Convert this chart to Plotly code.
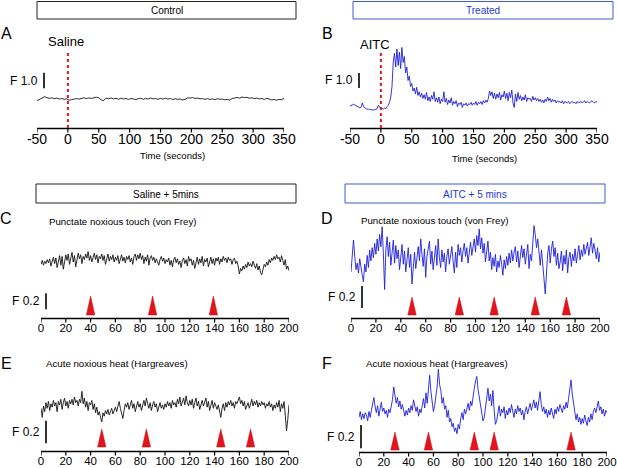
import plotly.graph_objects as go

W, H = 617, 468
FONT = "Arial, 'Liberation Sans', Helvetica, sans-serif"

# ---------------- data ----------------
# Panel A: control, saline added at t = 0 (F, baseline-subtracted)
a_time = list(range(-50, 351, 4))
a_saline = [
    -0.10, -0.05, 0.05, 0.15, 0.10, 0.04, 0.08, 0.02, 0.06, 0.00,
    0.03, -0.02, 0.01, -0.08, -0.04, 0.00, 0.03, -0.01, 0.05, 0.08,
    0.03, 0.07, 0.04, 0.09, 0.12, 0.08, -0.06, -0.10, 0.06, 0.02,
    0.07, 0.01, 0.05, -0.02, 0.06, 0.00, 0.04, -0.03, 0.03, 0.01,
    -0.04, 0.02, 0.05, -0.02, 0.04, 0.00, 0.06, 0.01, 0.03, -0.02,
    0.04, 0.00, 0.05, -0.01, 0.03, -0.03, 0.02, -0.02, 0.00, -0.06,
    -0.02, 0.08, 0.06, 0.09, 0.04, 0.06, 0.01, 0.03, -0.02, 0.02,
    -0.03, 0.01, -0.04, 0.02, -0.02, 0.00, -0.05, -0.02, -0.07, 0.03,
    0.07, 0.10, 0.06, 0.13, 0.09, 0.11, 0.05, 0.08, 0.02, 0.06,
    0.00, 0.04, -0.03, 0.05, 0.00, -0.06, -0.03, -0.08, -0.02, -0.04,
    0.04,
]

# Panel B: treated, AITC added at t = 0
b_time = list(range(-50, 351, 2))
b_aitc = [
    0.00, 0.05, 0.08, 0.12, 0.06, 0.02, -0.05, -0.10, -0.12, -0.08,
    0.20, -0.05, -0.15, -0.18, -0.22, -0.20, -0.24, -0.26, -0.23, -0.27,
    -0.25, -0.22, -0.18, 0.05, -0.10, -0.20, -0.15, -0.22, -0.12, -0.18,
    -0.05, 0.05, 0.25, 0.60, 1.30, 2.90, 3.50, 2.60, 3.80, 2.70,
    3.60, 2.50, 3.90, 2.90, 3.30, 2.20, 2.60, 1.70, 2.00, 1.30,
    1.50, 1.00, 1.20, 0.80, 1.25, 0.70, 0.95, 0.60, 0.85, 0.50,
    0.75, 0.45, 0.90, 0.35, 0.60, 0.30, 0.70, 0.45, 0.95, 0.30,
    0.55, 0.25, 0.60, 0.15, 0.45, 0.30, 0.95, 0.25, 0.50, 0.10,
    0.40, 0.20, 0.55, 0.05, 0.30, 0.15, 0.35, -0.05, 0.20, 0.10,
    0.25, -0.10, 0.15, 0.05, 0.20, 0.00, 0.15, 0.10, 0.25, 0.05,
    0.20, 0.10, 0.30, 0.05, 0.25, 0.15, 0.30, 0.10, 0.35, 0.20,
    0.40, 0.25, 0.50, 1.00, 0.70, 0.95, 0.50, 0.85, 0.45, 0.80,
    0.55, 0.90, 0.40, 0.75, 0.60, 1.00, 0.50, 0.85, 0.35, 0.90,
    0.55, 1.05, 0.20, -0.10, 0.80, 0.30, 0.90, 0.45, 0.70, 0.35,
    0.60, 0.40, 0.75, 0.30, 0.55, 0.45, 0.50, 0.30, 0.65, 0.40,
    0.55, 0.35, 0.50, 0.30, 0.45, 0.25, 0.40, 0.20, 0.45, 0.30,
    0.60, 0.35, 0.50, 0.25, 0.45, 0.30, 0.40, 0.20, 0.35, 0.25,
    0.30, 0.20, 0.35, 0.15, 0.30, 0.25, 0.20, 0.30, 0.15, 0.25,
    0.30, 0.20, 0.25, 0.15, 0.30, 0.20, 0.25, 0.30, 0.20, 0.25,
    0.35, 0.20, 0.30, 0.25, 0.20, 0.30, 0.35, 0.25, 0.20, 0.30,
    0.25,
]

# Panels C-F: 200 s recordings
t200 = list(range(0, 201))
c_vonfrey_saline = [
    -0.03, 0.02, -0.04, 0.01, -0.02, 0.03, -0.01, 0.04, -0.05, 0.02,
    0.06, -0.02, 0.05, -0.07, 0.03, 0.08, -0.04, 0.07, -0.09, 0.01,
    0.09, 0.02, 0.10, -0.03, 0.06, 0.12, 0.00, 0.08, -0.06, 0.05,
    0.11, 0.04, 0.09, -0.02, 0.07, 0.03, 0.10, 0.05, 0.13, 0.02,
    0.08, 0.00, 0.06, 0.11, 0.03, 0.09, -0.01, 0.07, 0.04, 0.10,
    0.02, 0.08, -0.03, 0.06, 0.10, 0.01, 0.07, 0.03, 0.09, 0.00,
    0.06, 0.02, 0.08, -0.02, 0.05, 0.09, 0.01, 0.06, -0.01, 0.07,
    0.03, 0.08, 0.00, 0.05, -0.03, 0.07, 0.10, 0.02, 0.09, 0.04,
    0.11, 0.03, 0.08, -0.02, 0.06, 0.01, 0.09, -0.04, 0.05, 0.08,
    0.02, 0.06, -0.01, 0.04, 0.00, -0.04, 0.03, 0.07, 0.01, 0.05,
    -0.02, 0.03, 0.00, 0.05, -0.04, 0.02, -0.06, 0.03, 0.06, -0.01,
    0.04, -0.03, 0.01, -0.07, 0.02, 0.05, -0.02, 0.03, -0.05, 0.07,
    0.01, 0.04, -0.04, 0.02, -0.08, 0.01, 0.06, -0.03, 0.04, -0.01,
    0.07, -0.05, 0.03, 0.00, 0.05, -0.06, 0.02, 0.06, -0.02, 0.04,
    -0.04, 0.05, 0.01, 0.06, -0.03, 0.04, 0.00, 0.07, 0.02, 0.05,
    -0.01, 0.06, 0.02, 0.04, -0.03, 0.03, 0.05, -0.02, 0.01, -0.05,
    -0.15, -0.08, -0.11, -0.05, -0.09, -0.03, -0.07, 0.00, -0.05, -0.02,
    -0.06, 0.01, -0.04, -0.08, -0.02, -0.10, -0.05, -0.13, -0.16, -0.07,
    -0.03, -0.06, 0.00, -0.04, 0.03, -0.01, 0.05, 0.02, 0.07, 0.03,
    0.09, 0.04, 0.06, 0.00, 0.08, 0.02, -0.04, 0.03, -0.09, -0.05,
    -0.11,
]
d_vonfrey_aitc = [
    -0.12, 0.05, 0.17, 0.02, -0.10, -0.04, -0.13, 0.00, -0.09, -0.15,
    -0.21, -0.05, -0.12, 0.03, -0.08, 0.08, -0.02, 0.10, 0.01, 0.14,
    0.04, 0.18, 0.07, 0.22, 0.11, 0.29, 0.05, -0.28, 0.08, 0.20,
    0.02, 0.15, -0.06, 0.09, 0.17, -0.04, 0.12, 0.00, 0.08, -0.10,
    0.05, 0.13, -0.05, 0.07, -0.12, 0.02, 0.10, -0.08, 0.04, -0.23,
    -0.04, 0.06, -0.09, 0.03, 0.11, -0.02, 0.18, 0.04, -0.07, 0.09,
    -0.17, 0.02, 0.10, 0.16, -0.05, 0.07, -0.10, 0.03, 0.12, -0.06,
    0.18, 0.01, -0.08, 0.08, -0.03, 0.05, -0.12, 0.02, 0.09, -0.05,
    0.04, 0.11, -0.02, -0.13, 0.06, -0.08, 0.13, 0.03, 0.10, -0.03,
    0.07, 0.14, 0.02, 0.10, -0.04, 0.08, 0.15, 0.03, 0.11, 0.18,
    0.06, 0.21, 0.12, 0.27, 0.09, 0.19, 0.05, 0.14, -0.03, 0.08,
    0.16, -0.02, 0.06, -0.10, 0.01, -0.07, 0.04, -0.12, -0.02, -0.08,
    0.03, -0.05, -0.15, -0.01, -0.09, 0.02, -0.06, 0.05, -0.04, 0.08,
    -0.02, 0.06, 0.11, -0.03, 0.07, -0.08, 0.04, 0.12, 0.01, 0.09,
    -0.05, 0.06, 0.13, -0.09, 0.04, -0.02, 0.16, 0.30, 0.22, 0.10,
    0.18, 0.04, -0.06, 0.08, -0.10, -0.18, -0.32, -0.12, 0.05, 0.12,
    -0.04, 0.09, 0.16, 0.02, 0.10, -0.06, 0.05, -0.09, -0.03, 0.07,
    -0.11, 0.03, -0.05, 0.08, -0.13, 0.01, 0.06, -0.07, 0.04, -0.02,
    0.09, -0.04, 0.05, 0.12, -0.01, 0.08, 0.02, 0.13, 0.04, 0.10,
    0.15, 0.03, 0.11, 0.19, 0.05, 0.14, 0.08, 0.00, 0.10, -0.03,
    0.06,
]
e_heat_saline = [
    0.00, -0.08, 0.02, -0.03, 0.05, 0.00, 0.06, -0.02, 0.04, 0.01,
    0.07, 0.02, 0.05, -0.03, 0.06, 0.03, 0.08, -0.01, 0.05, 0.09,
    0.02, 0.06, 0.00, 0.07, 0.04, 0.08, 0.03, 0.10, 0.05, 0.07,
    0.02, 0.08, 0.05, 0.15, 0.04, 0.09, 0.01, 0.06, -0.02, 0.05,
    0.03, 0.07, -0.01, 0.04, -0.04, 0.01, -0.06, -0.03, -0.08, -0.12,
    -0.04, -0.07, -0.02, -0.05, -0.01, -0.06, -0.03, 0.00, -0.05, -0.02,
    0.01, -0.03, 0.03, 0.06, 0.00, -0.05, -0.09, -0.02, 0.04, 0.01,
    0.05, -0.01, 0.03, 0.07, 0.00, 0.04, -0.03, 0.02, 0.06, 0.01,
    0.04, -0.02, 0.03, 0.07, 0.02, 0.09, 0.04, 0.00, 0.05, -0.02,
    0.03, 0.06, 0.01, 0.04, -0.03, 0.02, 0.05, 0.00, 0.03, -0.01,
    0.04, 0.01, 0.06, 0.02, 0.05, 0.00, 0.07, 0.03, 0.05, 0.01,
    0.08, 0.04, 0.10, 0.02, 0.06, 0.09, 0.03, 0.11, 0.05, 0.02,
    0.07, 0.03, 0.08, 0.00, 0.05, 0.09, 0.02, 0.06, -0.01, 0.04,
    0.07, 0.02, 0.05, 0.09, 0.01, 0.06, -0.02, 0.04, 0.07, 0.00,
    0.05, 0.02, -0.01, 0.03, -0.04, -0.08, 0.00, 0.04, -0.02, 0.05,
    0.01, 0.06, 0.03, 0.07, 0.02, 0.05, 0.00, 0.06, 0.04, 0.08,
    0.10, 0.04, 0.07, 0.02, 0.06, -0.01, 0.03, 0.05, 0.00, 0.04,
    0.08, 0.02, 0.06, 0.03, 0.07, 0.01, 0.05, 0.02, 0.06, 0.03,
    0.05, 0.00, 0.04, 0.02, 0.06, 0.01, 0.04, -0.02, 0.03, 0.00,
    0.05, 0.01, 0.07, -0.03, 0.04, 0.00, 0.06, -0.06, -0.20, -0.10,
    0.03,
]
f_heat_aitc = [
    -0.02, 0.03, -0.04, 0.01, -0.03, 0.02, 0.00, -0.05, 0.03, -0.02,
    0.04, 0.10, 0.15, 0.07, 0.02, 0.08, -0.01, 0.05, 0.11, 0.03,
    0.06, 0.01, 0.04, -0.02, 0.05, 0.02, 0.08, 0.13, 0.24, 0.18,
    0.10, 0.15, 0.07, 0.12, 0.05, 0.09, 0.03, -0.01, 0.04, 0.00,
    0.06, 0.02, 0.08, 0.04, 0.13, 0.09, 0.03, 0.07, -0.01, 0.05,
    0.02, 0.08, 0.14, 0.06, 0.19, 0.10, 0.27, 0.34, 0.20, 0.13,
    0.03, 0.08, 0.17, 0.24, 0.39, 0.26, 0.21, 0.10, 0.15, 0.05,
    0.08, -0.02, 0.04, -0.06, -0.03, -0.10, -0.07, -0.14, -0.11, -0.16,
    -0.08, -0.12, -0.03, 0.02, -0.04, 0.05, 0.01, 0.06, 0.10, 0.04,
    0.12, 0.08, 0.18, 0.23, 0.29, 0.33, 0.22, 0.16, 0.07, 0.01,
    -0.05, -0.02, 0.06, 0.14, 0.23, 0.12, 0.18, 0.08, 0.21, 0.04,
    -0.08, -0.05, 0.03, 0.08, -0.01, 0.05, 0.02, 0.07, -0.03, 0.04,
    0.00, 0.06, 0.02, 0.09, 0.03, -0.02, 0.05, 0.01, 0.08, 0.03,
    0.06, 0.00, 0.04, -0.04, 0.03, 0.07, 0.01, 0.05, 0.10, 0.04,
    0.08, 0.13, 0.06, 0.11, 0.04, 0.15, 0.20, 0.09, 0.03, 0.07,
    0.01, 0.05, -0.02, 0.04, 0.00, 0.06, 0.02, -0.03, 0.05, 0.01,
    0.07, 0.03, 0.09, 0.04, 0.02, 0.08, 0.05, 0.11, 0.06, 0.14,
    0.22, 0.30, 0.18, 0.08, 0.03, -0.04, 0.01, -0.06, -0.02, -0.08,
    -0.03, -0.07, 0.00, -0.05, -0.09, -0.02, -0.06, 0.01, -0.04, 0.03,
    0.06, 0.02, 0.09, 0.12, 0.04, 0.07, 0.01, 0.05, -0.01, 0.04,
    0.02,
]

# stimulus times (red arrowheads)
c_stim = [40, 90, 139]
d_stim = [49, 87, 115, 148, 173]
e_stim = [49, 85, 145, 169]
f_stim = [29, 56, 93, 109, 171]

# tick labels
ab_ticks = [-50, 0, 50, 100, 150, 200, 250, 300, 350]
cf_ticks = [0, 20, 40, 60, 80, 100, 120, 140, 160, 180, 200]

# scale bars (F units)
ab_scale = 1.0
cf_scale = 0.2

# ---------------- styling / layout helpers ----------------
def fx(p):
    return p / W


def fy(p):
    return 1 - p / H


BLACK_TRACE = "#141414"
BLUE_TRACE = "#1f1fd8"
RED = "#e3141b"
BLUE_BOX = "#3d5ad8"
BLUE_TXT = "#2436d0"

# geometry in pixels: x-left, x-right, axis line y, top y, y-min (F), px per F
panels = [
    dict(x=a_time, y=a_saline, color=BLACK_TRACE, xl=37, xr=284, yb=128, yt=40,
         ymin=-1.87, ppu=15.5, xrange=[-50, 350], ticks=ab_ticks, tfs=14, so=1),
    dict(x=b_time, y=b_aitc, color=BLUE_TRACE, xl=350, xr=597, yb=128, yt=40,
         ymin=-1.467, ppu=15.0, xrange=[-50, 350], ticks=ab_ticks, tfs=14, so=1),
    dict(x=t200, y=c_vonfrey_saline, color=BLACK_TRACE, xl=41, xr=289, yb=318, yt=235,
         ymin=-0.70, ppu=80.0, xrange=[0, 200], ticks=cf_ticks, tfs=11.5, so=1),
    dict(x=t200, y=d_vonfrey_aitc, color=BLUE_TRACE, xl=351, xr=600, yb=318, yt=222,
         ymin=-0.539, ppu=110.0, xrange=[0, 200], ticks=cf_ticks, tfs=11.5, so=1),
    dict(x=t200, y=e_heat_saline, color=BLACK_TRACE, xl=41, xr=289, yb=451, yt=380,
         ymin=-0.378, ppu=113.0, xrange=[0, 200], ticks=cf_ticks, tfs=11.5, so=1),
    dict(x=t200, y=f_heat_aitc, color=BLUE_TRACE, xl=359, xr=607, yb=452, yt=360,
         ymin=-0.316, ppu=117.0, xrange=[0, 200], ticks=cf_ticks, tfs=11.5, so=1),
]

fig = go.Figure()
layout = {}
shapes = []
annotations = []
for i, p in enumerate(panels, start=1):
    sfx = "" if i == 1 else str(i)
    fig.add_trace(go.Scatter(
        x=p["x"], y=p["y"], mode="lines",
        line=dict(color=p["color"], width=0.9),
        xaxis="x" + sfx, yaxis="y" + sfx,
        hoverinfo="skip", showlegend=False,
    ))
    layout["xaxis" + sfx] = dict(
        domain=[fx(p["xl"]), fx(p["xr"])], range=p["xrange"], anchor="y" + sfx,
        showline=False, ticks="",
        tickmode="array", tickvals=p["ticks"], ticktext=[str(t) for t in p["ticks"]],
        tickfont=dict(size=p["tfs"], color="black", family=FONT),
        ticklabelstandoff=p["so"],
        showgrid=False, zeroline=False, fixedrange=True, automargin=False,
    )
    ymax = p["ymin"] + (p["yb"] - p["yt"]) / p["ppu"]
    layout["yaxis" + sfx] = dict(
        domain=[fy(p["yb"]), fy(p["yt"])], range=[p["ymin"], ymax], anchor="x" + sfx,
        showline=False, showticklabels=False, ticks="", showgrid=False,
        zeroline=False, fixedrange=True, automargin=False,
    )
    # axis baseline and tick marks, placed through the x axis scale
    shapes.append(dict(type="line", xref="x" + sfx, yref="paper",
                       x0=p["xrange"][0], x1=p["xrange"][1],
                       y0=fy(p["yb"] + 0.5), y1=fy(p["yb"] + 0.5),
                       line=dict(color="black", width=1.5)))
    for t in p["ticks"]:
        shapes.append(dict(type="line", xref="x" + sfx, yref="paper",
                           x0=t, x1=t, y0=fy(p["yb"]), y1=fy(p["yb"] + 4.5),
                           line=dict(color="black", width=1.2)))


def text(x, y, s, size, color="black", xanchor="center", yanchor="middle"):
    annotations.append(dict(
        x=fx(x), y=fy(y), xref="paper", yref="paper", text=s, showarrow=False,
        xanchor=xanchor, yanchor=yanchor,
        font=dict(size=size, color=color, family=FONT),
    ))


def box(x0, x1, y0, y1, s, color, tcolor):
    shapes.append(dict(type="rect", xref="paper", yref="paper",
                       x0=fx(x0), x1=fx(x1), y0=fy(y1), y1=fy(y0),
                       line=dict(color=color, width=1), fillcolor="rgba(0,0,0,0)"))
    text((x0 + x1) / 2, (y0 + y1) / 2 + 0.5, s, 10, tcolor)


# header boxes
box(37, 296, 1.5, 19, "Control", "#222222", "black")
box(353, 613, 1.5, 19, "Treated", BLUE_BOX, BLUE_TXT)
box(36, 296, 184, 203, "Saline + 5mins", "#222222", "black")
box(345, 605, 184, 203, "AITC + 5 mins", BLUE_BOX, BLUE_TXT)

# panel letters
for s, x, y in [("A", 6, 34), ("B", 327, 34), ("C", 6, 218),
                ("D", 327, 218), ("E", 6, 363), ("F", 327, 363)]:
    text(x, y, s, 16)

# application markers (dotted red lines at t = 0)
for ax, lbl, lx, ly in [("x", "Saline", 66, 41), ("x2", "AITC", 375, 45)]:
    shapes.append(dict(type="line", xref=ax, yref="paper", x0=0, x1=0,
                       y0=fy(128), y1=fy(53),
                       line=dict(color=RED, width=2, dash="dot")))
    text(lx, ly, lbl, 13)

# axis titles
text(172, 155.5, "Time (seconds)", 9.5)
text(484, 158, "Time (seconds)", 9.5)

# subplot titles
text(47, 221.5, "Punctate noxious touch (von Frey)", 9.7, xanchor="left")
text(359, 220, "Punctate noxious touch (von Frey)", 9.7, xanchor="left")
text(44, 363.5, "Acute noxious heat (Hargreaves)", 9.7, xanchor="left")
text(364, 363.5, "Acute noxious heat (Hargreaves)", 9.7, xanchor="left")

# scale bars: (axis, bar x px, bar bottom in F, length)
scalebars = [
    ("y", 44, 0.69, ab_scale), ("y2", 359, 1.20, ab_scale),
    ("y3", 46, -0.59, cf_scale), ("y4", 362, -0.448, cf_scale),
    ("y5", 46, -0.31, cf_scale), ("y6", 361, -0.285, cf_scale),
]
for (ax, bx, b0, length), p in zip(scalebars, panels):
    shapes.append(dict(type="line", xref="paper", yref=ax, x0=fx(bx), x1=fx(bx),
                       y0=b0, y1=b0 + length, line=dict(color="black", width=1.6)))
    mid_px = p["yb"] - (b0 + length / 2 - p["ymin"]) * p["ppu"]
    text(bx - 4, mid_px, "F %.1f" % length, 12, xanchor="right")

# stimulus arrowheads (red triangles), base/top in px above axis
stims = [(3, c_stim, 3, 22), (4, d_stim, 3, 21), (5, e_stim, 4, 22), (6, f_stim, 2, 20)]
for idx, times, base_off, top_off in stims:
    p = panels[idx - 1]
    hw = 4.2 * (p["xrange"][1] - p["xrange"][0]) / (p["xr"] - p["xl"])
    yb = fy(p["yb"] - base_off)
    yt = fy(p["yb"] - top_off)
    for t in times:
        shapes.append(dict(
            type="path", xref="x" + str(idx), yref="paper",
            path=f"M {t - hw},{yb} L {t},{yt} L {t + hw},{yb} Z",
            fillcolor=RED, line=dict(color="#c80f14", width=0.5),
        ))

fig.update_layout(
    template="none",
    width=W, height=H, margin=dict(l=0, r=0, t=0, b=0, pad=0, autoexpand=False),
    paper_bgcolor="white", plot_bgcolor="rgba(0,0,0,0)",
    shapes=shapes, annotations=annotations,
    font=dict(family=FONT, color="black"),
    showlegend=False,
    **layout,
)

fig.write_html(
    "out.html",
    config={"displayModeBar": False},
    post_script="document.body.style.margin='0px';",
)
